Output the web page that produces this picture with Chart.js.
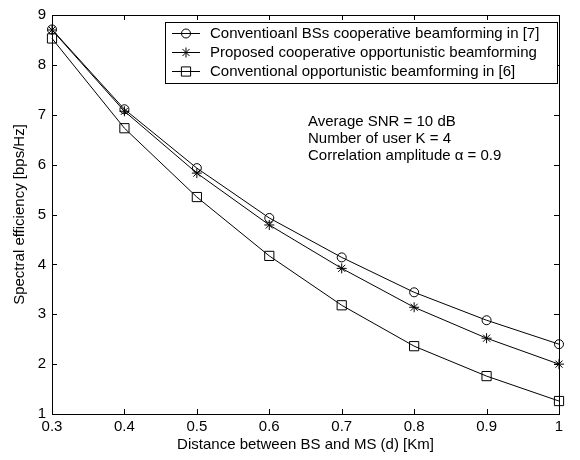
<!DOCTYPE html>
<html>
<head>
<meta charset="utf-8">
<script src="https://cdn.jsdelivr.net/npm/chart.js@4/dist/chart.umd.min.js"></script>
<style>
  html, body { margin: 0; padding: 0; background: #fff; }
  #plot { display: block; }
</style>
</head>
<body>
<canvas id="plot" width="580" height="460"></canvas>
<script>
// --- data ---
const distance = [0.3, 0.4, 0.5, 0.6, 0.7, 0.8, 0.9, 1.0];
const coopBF = [8.71, 7.11, 5.93, 4.93, 4.14, 3.44, 2.88, 2.40];
const proposedBF = [8.70, 7.07, 5.83, 4.79, 3.92, 3.14, 2.52, 2.00];
const opportBF = [8.53, 6.73, 5.35, 4.17, 3.18, 2.36, 1.76, 1.26];

const seriesNames = [
  'Conventioanl BSs cooperative beamforming in [7]',
  'Proposed cooperative opportunistic beamforming',
  'Conventional opportunistic beamforming in [6]'
];
const notes = [
  'Average SNR = 10 dB',
  'Number of user K = 4',
  'Correlation amplitude \u03B1 = 0.9'
];

const FONT = "'Liberation Sans', Arial, sans-serif";
const markers = [
  { pointStyle: 'circle', pointRadius: 4.5 },
  { pointStyle: 'star', pointRadius: 5 },
  { pointStyle: 'rect', pointRadius: 6.5 }
];

const toPoints = ys => ys.map((y, i) => ({ x: distance[i], y }));
const mkSet = (label, ys, m) => ({
  label, data: toPoints(ys),
  borderColor: '#000', borderWidth: 1, backgroundColor: 'transparent',
  pointBorderColor: '#000', pointBackgroundColor: 'transparent', pointBorderWidth: 1,
  pointStyle: m.pointStyle, pointRadius: m.pointRadius, pointHoverRadius: m.pointRadius,
  tension: 0, clip: false
});

// matlab-ish frame: box + inward ticks on all four sides
const framePlugin = {
  id: 'frame',
  afterDatasetsDraw(chart) {
    const { ctx, chartArea: a, scales: { x, y } } = chart;
    const L = 5;
    ctx.save();
    ctx.strokeStyle = '#000';
    ctx.lineWidth = 1;
    ctx.beginPath();
    x.ticks.forEach(t => {
      const px = Math.round(x.getPixelForValue(t.value)) + 0.5;
      ctx.moveTo(px, a.bottom); ctx.lineTo(px, a.bottom - L);
      ctx.moveTo(px, a.top); ctx.lineTo(px, a.top + L);
    });
    y.ticks.forEach(t => {
      const py = Math.round(y.getPixelForValue(t.value)) + 0.5;
      ctx.moveTo(a.left, py); ctx.lineTo(a.left + L, py);
      ctx.moveTo(a.right, py); ctx.lineTo(a.right - L, py);
    });
    ctx.stroke();
    ctx.strokeRect(Math.round(a.left) + 0.5, Math.round(a.top) + 0.5,
      Math.round(a.right - a.left), Math.round(a.bottom - a.top));
    ctx.restore();
  }
};

// legend box + annotation text
const legendPlugin = {
  id: 'boxLegend',
  afterDraw(chart) {
    const { ctx } = chart;
    const bx = 165, by = 22, bw = 392, bh = 61, row = 19;
    ctx.save();
    ctx.fillStyle = '#fff';
    ctx.fillRect(bx, by, bw, bh);
    ctx.strokeStyle = '#000';
    ctx.lineWidth = 1;
    ctx.strokeRect(bx + 0.5, by + 0.5, bw, bh);
    ctx.font = '15px ' + FONT;
    ctx.textBaseline = 'middle';
    chart.data.datasets.forEach((ds, i) => {
      const yy = by + 11 + i * row + 0.5;
      ctx.beginPath();
      ctx.moveTo(172, yy); ctx.lineTo(200, yy);
      ctx.stroke();
      ctx.fillStyle = 'rgba(0,0,0,0)';
      Chart.helpers.drawPoint(ctx, { pointStyle: ds.pointStyle, radius: ds.pointRadius, rotation: 0, borderWidth: 1 }, 186, yy);
      ctx.fillStyle = '#000';
      ctx.fillText(ds.label, 210, yy);
    });
    notes.forEach((t, i) => ctx.fillText(t, 308, 122 + i * 17));
    ctx.restore();
  }
};

const fmt = v => String(Number(v.toFixed(1)));

new Chart(document.getElementById('plot'), {
  type: 'line',
  data: {
    datasets: [
      mkSet(seriesNames[0], coopBF, markers[0]),
      mkSet(seriesNames[1], proposedBF, markers[1]),
      mkSet(seriesNames[2], opportBF, markers[2])
    ]
  },
  options: {
    responsive: false,
    animation: false,
    devicePixelRatio: 1,
    layout: { padding: { top: 15, right: 21, left: 0, bottom: 0 } },
    plugins: { legend: { display: false }, tooltip: { enabled: false } },
    scales: {
      x: {
        type: 'linear', min: 0.3, max: 1,
        ticks: { stepSize: 0.1, callback: fmt, color: '#000', font: { family: FONT, size: 15 }, padding: 4, maxRotation: 0, autoSkip: false },
        grid: { display: false, drawTicks: false },
        border: { display: false },
        title: { display: true, text: 'Distance between BS and MS (d) [Km]', color: '#000', font: { family: FONT, size: 15 }, padding: { top: 0, bottom: 6 } },
        afterFit: s => { s.height = 46; }
      },
      y: {
        type: 'linear', min: 1, max: 9,
        ticks: { stepSize: 1, callback: fmt, color: '#000', font: { family: FONT, size: 15 }, padding: 6 },
        grid: { display: false, drawTicks: false },
        border: { display: false },
        title: { display: true, text: 'Spectral efficiency [bps/Hz]', color: '#000', font: { family: FONT, size: 15 }, padding: { top: 11, bottom: 0 } },
        afterFit: s => { s.width = 52; }
      }
    }
  },
  plugins: [framePlugin, legendPlugin]
});
</script>
</body>
</html>
